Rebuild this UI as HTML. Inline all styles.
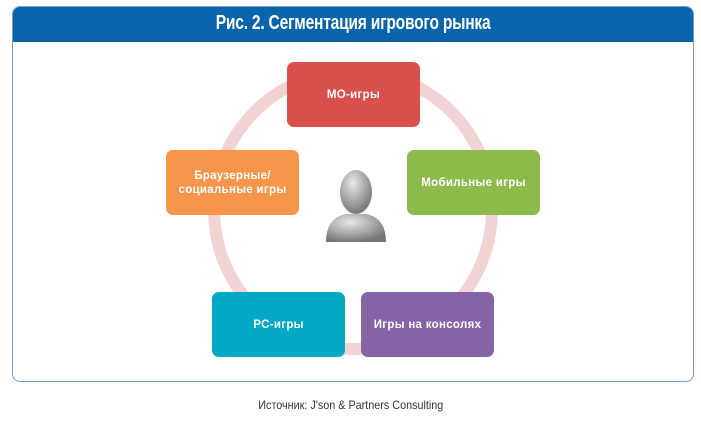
<!DOCTYPE html>
<html><head><meta charset="utf-8"><style>
body{margin:0;width:701px;height:422px;background:#fff;position:relative;overflow:hidden;font-family:"Liberation Sans","DejaVu Sans",sans-serif}
.frame{position:absolute;left:12px;top:6px;width:680px;height:374px;border:1.5px solid #7a9cc6;border-radius:8px;overflow:hidden}
.hdr{position:absolute;left:0;top:0;right:0;height:35px;background:#0864ab;color:#fff;text-align:center;line-height:35px}
.hdr span{display:inline-block;font:bold 20px "Liberation Sans",sans-serif;transform:scaleX(0.78);letter-spacing:-0.3px;white-space:nowrap}
.b{position:absolute;width:133px;height:65px;border-radius:7px;color:#fff;font-weight:bold;font-size:11.5px;display:flex;align-items:center;justify-content:center;text-align:center;line-height:14px;letter-spacing:0.3px}
.src{position:absolute;top:398px;left:0;width:701px;text-align:center;font-size:12px;color:#333}
.src span{display:inline-block;transform:scaleX(0.9);white-space:nowrap}
</style></head><body>
<div class="frame"><div class="hdr"><span>Рис. 2. Сегментация игрового рынка</span></div></div>
<svg style="position:absolute;left:0;top:0" width="701" height="422">
<circle cx="353" cy="210" r="139" fill="none" stroke="#f2d3d3" stroke-width="12"/>
<defs><radialGradient id="g" cx="40%" cy="30%" r="70%"><stop offset="0" stop-color="#e8e8e8"/><stop offset="1" stop-color="#777"/></radialGradient></defs>
<path d="M326 242 Q326 218 346 214 L366 214 Q386 218 386 242 Z" fill="url(#g)"/>
<ellipse cx="356" cy="192" rx="16" ry="22" fill="url(#g)"/>
</svg>
<div class="b" style="left:287px;top:62px;background:#d9504d">МО-игры</div>
<div class="b" style="left:166px;top:150px;background:#f7954a">Браузерные/<br>социальные игры</div>
<div class="b" style="left:407px;top:150px;background:#8cbb4c">Мобильные игры</div>
<div class="b" style="left:212px;top:292px;background:#04a9c6">PC-игры</div>
<div class="b" style="left:361px;top:292px;background:#8563a7">Игры на консолях</div>
<div class="src"><span>Источник: J'son &amp; Partners Consulting</span></div>
</body></html>
